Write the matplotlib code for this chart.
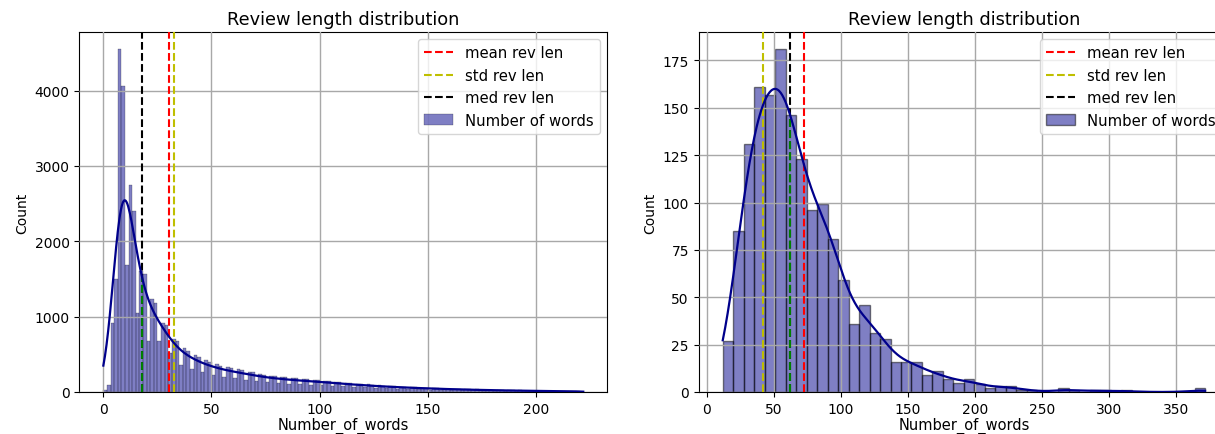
import numpy as np
import matplotlib.pyplot as plt

# left panel: counts per bin, 133 equal bins from 0 to 222 words
left_range = (0, 222)
left_counts = [30, 90, 920, 1500, 4550, 4060, 1680, 2750, 2400, 1050,
               1600, 1560, 680, 1240, 1180, 670, 920, 890, 520, 700,
               680, 360, 580, 550, 310, 490, 460, 260, 420, 400,
               230, 370, 350, 200, 330, 320, 180, 300, 290, 160,
               270, 260, 145, 240, 230, 130, 215, 210, 120, 200,
               195, 110, 185, 180, 100, 175, 170, 95, 165, 160,
               90, 150, 145, 85, 135, 130, 75, 120, 115, 70,
               110, 105, 62, 100, 95, 55, 88, 85, 50, 80,
               76, 45, 72, 68, 40, 64, 62, 36, 58, 56,
               32, 52, 50, 29, 46, 44, 26, 41, 40, 23,
               37, 35, 20, 33, 31, 18, 29, 28, 16, 26,
               25, 14, 23, 22, 12, 20, 19, 11, 18, 17,
               10, 16, 15, 9, 14, 13, 8, 12, 11, 7,
               10, 9, 6]
left_mean, left_std, left_med = 30.5, 32.5, 18

# right panel: 46 equal bins from 12 to 372 words
right_range = (12, 372)
right_counts = [27, 85, 131, 161, 157, 181, 146, 123, 96, 99,
                81, 59, 36, 46, 31, 28, 16, 16, 16, 9,
                11, 7, 5, 7, 4, 2, 3, 3, 1, 1,
                0, 0, 2, 1, 0, 1, 1, 0, 1, 0,
                0, 0, 0, 0, 0, 2]
right_mean, right_std, right_med = 72.5, 42, 62


def kde_from_bins(edges, counts, adjust=1.0):
    # gaussian kde (scott) on bin centres, scaled to counts like seaborn
    c = (edges[:-1] + edges[1:]) / 2
    n = counts.sum()
    mu = (counts * c).sum() / n
    sd = np.sqrt((counts * (c - mu) ** 2).sum() / n)
    bw = sd * n ** (-1 / 5) * adjust
    xs = np.linspace(edges[0], edges[-1], 600)
    dens = (counts[None, :] * np.exp(-(xs[:, None] - c[None, :]) ** 2 / (2 * bw ** 2))).sum(axis=1)
    dens = dens / (np.sqrt(2 * np.pi) * bw)
    return xs, dens * (edges[1] - edges[0])


def draw(ax, rng, counts, mean, std, med, lw_edge, adjust):
    counts = np.array(counts, dtype=float)
    edges = np.linspace(rng[0], rng[1], len(counts) + 1)
    bars = ax.bar(edges[:-1], counts, width=np.diff(edges), align='edge',
                  color='darkblue', alpha=0.5, edgecolor='black', linewidth=lw_edge,
                  label='Number of words', zorder=1)
    xs, ys = kde_from_bins(edges, counts, adjust)
    ax.plot(xs, ys, color='darkblue', lw=1.6, zorder=4)
    l1 = ax.axvline(mean, color='r', ls='--', lw=1.5, label='mean rev len', zorder=3)
    l2 = ax.axvline(std, color='y', ls='--', lw=1.5, label='std rev len', zorder=3)
    l3 = ax.axvline(med, color='k', ls='--', lw=1.5, label='med rev len', zorder=3)
    ax.vlines(med, 0, np.interp(med, xs, ys), colors='g', linestyles='--', lw=1.5, zorder=3.5)
    ax.grid(True, color='#a8a8a8', lw=1.0)
    ax.set_axisbelow(False)
    for gl in ax.get_xgridlines() + ax.get_ygridlines():
        gl.set_zorder(2)
    ax.set_title('Review length distribution', fontsize=12.8)
    ax.set_xlabel('Number_of_words', fontsize=10.5, labelpad=1)
    ax.set_ylabel('Count', fontsize=10)
    ax.tick_params(labelsize=10)
    ax.legend(handles=[l1, l2, l3, bars], loc='upper right', fontsize=10.7)
    ax.margins(x=0.05, y=0.05)
    ax.set_ylim(0, counts.max() * 1.05)


fig = plt.figure(figsize=(12.15, 4.35), dpi=100)
ax1 = fig.add_axes([0.0653, 0.0966, 0.4345, 0.8276])
ax2 = fig.add_axes([0.575, 0.0966, 0.4367, 0.8276])

draw(ax1, left_range, left_counts, left_mean, left_std, left_med, 0.3, 0.85)
draw(ax2, right_range, right_counts, right_mean, right_std, right_med, 1.0, 1.0)
ax1.set_xticks([0, 50, 100, 150, 200])
ax2.set_xticks([0, 50, 100, 150, 200, 250, 300, 350])

fig.savefig('out.png', dpi=100)
